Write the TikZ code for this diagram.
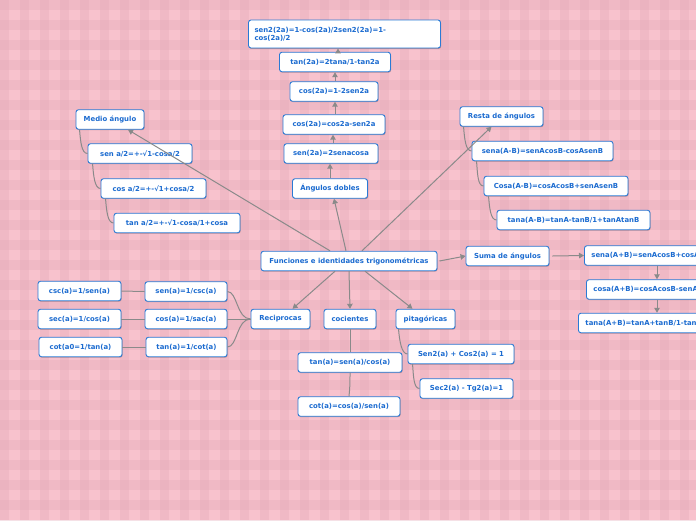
\documentclass[tikz,border=0pt]{standalone}
\usepackage{fontspec}
\setmainfont{DejaVu Sans}
\usetikzlibrary{arrows.meta,shadows}
\definecolor{bgpink}{HTML}{F8C2CD}
\definecolor{stripe}{HTML}{E3AAB7}
\definecolor{nodeblue}{HTML}{2A7AD5}
\definecolor{txtblue}{HTML}{1B6BD0}
\definecolor{linegray}{HTML}{8A8A8A}
\tikzset{
 box/.style={draw=nodeblue, line width=0.9pt, fill=white, rounded corners=2.5pt, text=txtblue,
   font=\fontsize{6.9}{8}\selectfont\bfseries, inner xsep=3pt, inner ysep=1pt, minimum height=19.5pt,
   drop shadow={shadow xshift=0.6pt,shadow yshift=-0.9pt,opacity=0.25,fill=black}},
 conn/.style={draw=linegray, line width=1pt},
 arr/.style={conn, -{Triangle[length=5pt,width=5.5pt]}},
}
\begin{document}
\begin{tikzpicture}[x=1pt,y=-1pt]
\useasboundingbox (0,0) rectangle (696,520);
\clip (0,0) rectangle (696,520);
\fill[bgpink] (0,0) rectangle (696,520);
\foreach \i in {0,...,34} { \fill[stripe,opacity=0.35] (20*\i,0) rectangle (20*\i+9,520); }
\foreach \i in {0,...,26} { \fill[stripe,opacity=0.35] (0,20*\i) rectangle (696,20*\i+10); }

% central
\node[box, minimum width=176pt] (main) at (349,261) {Funciones e identidades trigonométricas};

% double angles
\node[box, minimum width=75pt] (ang) at (330,188.5) {Ángulos dobles};
\node[box, minimum width=94pt] (s2a) at (331,153.5) {sen(2a)=2senacosa};
\node[box, minimum width=102pt] (c2a) at (334,124.5) {cos(2a)=cos2a-sen2a};
\node[box, minimum width=88pt] (c2b) at (334,91.5) {cos(2a)=1-2sen2a};
\node[box, minimum width=111pt] (t2a) at (335,62) {tan(2a)=2tana/1-tan2a};
\node[box, minimum width=191pt, minimum height=28pt, text width=180pt, align=left, inner xsep=6pt] (top) at (344.5,34) {sen2(2a)=1-cos(2a)/2sen2(2a)=1-\\cos(2a)/2};

% half angle
\node[box, minimum width=68pt] (medio) at (110,119.5) {Medio ángulo};
\node[box, minimum width=104pt] (sh) at (140,153.5) {sen a/2=+-√1-cosa/2};
\node[box, minimum width=105pt] (ch) at (153.5,188.5) {cos a/2=+-√1+cosa/2};
\node[box, minimum width=126pt] (th) at (177,223) {tan a/2=+-√1-cosa/1+cosa};

% difference
\node[box, minimum width=83pt] (resta) at (501.5,116.5) {Resta de ángulos};
\node[box, minimum width=141pt] (smb) at (542.5,151) {sena(A-B)=senAcosB-cosAsenB};
\node[box, minimum width=144pt] (cmb) at (556,186) {Cosa(A-B)=cosAcosB+senAsenB};
\node[box, minimum width=153pt] (tmb) at (573.5,220) {tana(A-B)=tanA-tanB/1+tanAtanB};

% sum
\node[box, minimum width=83pt] (suma) at (507.5,256) {Suma de ángulos};
\node[box, anchor=west, inner xsep=7pt] (spb) at (584,255.5) {sena(A+B)=senAcosB+cosAsenB};
\node[box, anchor=west, inner xsep=7pt] (cpb) at (586,289.5) {cosa(A+B)=cosAcosB-senAsenB};
\node[box, anchor=west, inner xsep=7pt] (tpb) at (578,323) {tana(A+B)=tanA+tanB/1-tanAtanB};
\coordinate (colx) at (657,0);

% bottom categories
\node[box, minimum width=59pt] (rec) at (280.5,319) {Reciprocas};
\node[box, minimum width=52pt] (coc) at (350,319) {cocientes};
\node[box, minimum width=59pt] (pit) at (425.5,319) {pitagóricas};

% reciprocal
\node[box, minimum width=82pt] (r1) at (186,291.5) {sen(a)=1/csc(a)};
\node[box, minimum width=82pt] (r2) at (186,319) {cos(a)=1/sac(a)};
\node[box, minimum width=81pt] (r3) at (186.5,347) {tan(a)=1/cot(a)};
\node[box, minimum width=83pt] (l1) at (79.5,291) {csc(a)=1/sen(a)};
\node[box, minimum width=83pt] (l2) at (79.5,319) {sec(a)=1/cos(a)};
\node[box, minimum width=83pt] (l3) at (80.5,347) {cot(a0=1/tan(a)};

% quotients
\node[box, minimum width=104pt] (q1) at (350,362.5) {tan(a)=sen(a)/cos(a)};
\node[box, minimum width=102pt] (q2) at (349,406.5) {cot(a)=cos(a)/sen(a)};

% pythagorean
\node[box, minimum width=106pt] (p1) at (461,354) {Sen2(a) + Cos2(a) = 1};
\node[box, minimum width=93pt] (p2) at (466.5,388.5) {Sec2(a) - Tg2(a)=1};

% connectors from centre
\draw[arr] ([xshift=-19pt]main.north) -- ([xshift=18pt]medio.south);
\draw[arr] ([xshift=-3pt]main.north) -- ([xshift=4pt]ang.south);
\draw[arr] ([xshift=13pt]main.north) -- ([xshift=-10pt]resta.south);
\draw[arr] ([xshift=2pt]main.east) -- (suma.west);
\draw[arr] ([xshift=-14pt]main.south) -- ([xshift=12pt]rec.north);
\draw[arr] (main.south) -- (coc.north);
\draw[arr] ([xshift=16pt]main.south) -- ([xshift=-13pt]pit.north);

% double-angle chain
\draw[arr] (ang.north) -- (ang.north |- s2a.south);
\draw[arr] ([xshift=2pt]s2a.north) -- ([xshift=2pt]s2a.north |- c2a.south);
\draw[arr] ([xshift=1pt]c2a.north) -- ([xshift=1pt]c2a.north |- c2b.south);
\draw[arr] ([xshift=1pt]c2b.north) -- ([xshift=1pt]c2b.north |- t2a.south);
\draw[arr] ([xshift=3pt]t2a.north) -- ([xshift=3pt]t2a.north |- top.south);

% half-angle tree
\draw[conn] ([xshift=4pt]medio.south west) .. controls +(1,12) and +(-6,0) .. (sh.west);
\draw[conn] ([xshift=5pt]sh.south west) .. controls +(1,12) and +(-6,0) .. (ch.west);
\draw[conn] ([xshift=5pt]ch.south west) .. controls +(1,12) and +(-6,0) .. (th.west);

% difference tree
\draw[conn] ([xshift=4pt]resta.south west) .. controls +(1,12) and +(-6,0) .. (smb.west);
\draw[conn] ([xshift=5pt]smb.south west) .. controls +(1,12) and +(-6,0) .. (cmb.west);
\draw[conn] ([xshift=5pt]cmb.south west) .. controls +(1,12) and +(-6,0) .. (tmb.west);

% sum chain
\draw[arr] ([xshift=3pt]suma.east) -- (spb.west);
\draw[arr] (spb.south -| colx) -- (cpb.north -| colx);
\draw[arr] (cpb.south -| colx) -- (tpb.north -| colx);

% reciprocal tree
\draw[conn] (rec.west) .. controls +(-14,0) and +(10,0) .. (r1.east);
\draw[conn] (rec.west) -- (r2.east);
\draw[conn] (rec.west) .. controls +(-14,0) and +(10,0) .. (r3.east);
\draw[conn] (l1.east) -- (r1.west);
\draw[conn] (l2.east) -- (r2.west);
\draw[conn] (l3.east) -- (r3.west);

% quotients
\draw[conn] (coc.south) -- (coc.south |- q1.north);
\draw[conn] (q1.south) .. controls +(0,10) and +(1,-10) .. (q2.north);

% pythagorean
\draw[conn] ([xshift=3pt]pit.south west) .. controls +(1,12) and +(-6,0) .. (p1.west);
\draw[conn] ([xshift=5pt]p1.south west) .. controls +(1,12) and +(-6,0) .. (p2.west);
\end{tikzpicture}
\end{document}
